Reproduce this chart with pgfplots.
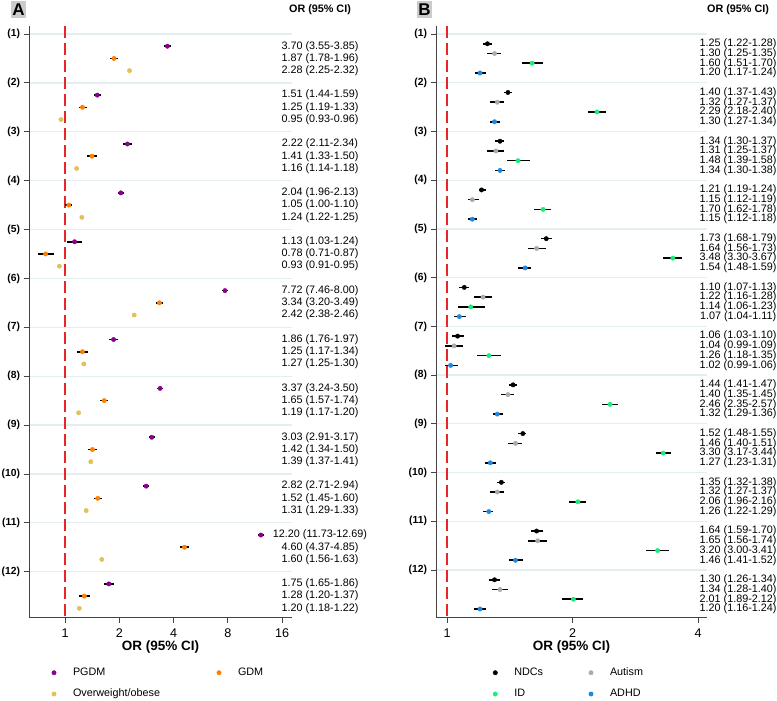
\documentclass[border=0pt]{standalone}
\usepackage{pgfplots}
\pgfplotsset{compat=1.18}
\usepackage{pgfplotstable}
\usepackage{fontspec}
\setmainfont{Liberation Sans}

\definecolor{cPGDM}{HTML}{8B008B}
\definecolor{cGDM}{HTML}{FF8000}
\definecolor{cOW}{HTML}{E0C25A}
\definecolor{cNDC}{HTML}{000000}
\definecolor{cAut}{HTML}{ABABAB}
\definecolor{cID}{HTML}{19EE7A}
\definecolor{cADHD}{HTML}{1E88E5}
\definecolor{gridc}{HTML}{E4EEF0}
\definecolor{refred}{HTML}{E8262A}
\definecolor{axc}{HTML}{444444}
\definecolor{boxg}{HTML}{CCCCCC}

% ---------------- Panel A ----------------
\pgfplotstableread{
grp or lo hi lab
1 3.70 3.55 3.85 {3.70 (3.55-3.85)}
2 1.51 1.44 1.59 {1.51 (1.44-1.59)}
3 2.22 2.11 2.34 {2.22 (2.11-2.34)}
4 2.04 1.96 2.13 {2.04 (1.96-2.13)}
5 1.13 1.03 1.24 {1.13 (1.03-1.24)}
6 7.72 7.46 8.00 {7.72 (7.46-8.00)}
7 1.86 1.76 1.97 {1.86 (1.76-1.97)}
8 3.37 3.24 3.50 {3.37 (3.24-3.50)}
9 3.03 2.91 3.17 {3.03 (2.91-3.17)}
10 2.82 2.71 2.94 {2.82 (2.71-2.94)}
11 12.20 11.73 12.69 {12.20 (11.73-12.69)}
12 1.75 1.65 1.86 {1.75 (1.65-1.86)}
}\tPGDM
\pgfplotstableread{
grp or lo hi lab
1 1.87 1.78 1.96 {1.87 (1.78-1.96)}
2 1.25 1.19 1.33 {1.25 (1.19-1.33)}
3 1.41 1.33 1.50 {1.41 (1.33-1.50)}
4 1.05 1.00 1.10 {1.05 (1.00-1.10)}
5 0.78 0.71 0.87 {0.78 (0.71-0.87)}
6 3.34 3.20 3.49 {3.34 (3.20-3.49)}
7 1.25 1.17 1.34 {1.25 (1.17-1.34)}
8 1.65 1.57 1.74 {1.65 (1.57-1.74)}
9 1.42 1.34 1.50 {1.42 (1.34-1.50)}
10 1.52 1.45 1.60 {1.52 (1.45-1.60)}
11 4.60 4.37 4.85 {4.60 (4.37-4.85)}
12 1.28 1.20 1.37 {1.28 (1.20-1.37)}
}\tGDM
\pgfplotstableread{
grp or lo hi lab
1 2.28 2.25 2.32 {2.28 (2.25-2.32)}
2 0.95 0.93 0.96 {0.95 (0.93-0.96)}
3 1.16 1.14 1.18 {1.16 (1.14-1.18)}
4 1.24 1.22 1.25 {1.24 (1.22-1.25)}
5 0.93 0.91 0.95 {0.93 (0.91-0.95)}
6 2.42 2.38 2.46 {2.42 (2.38-2.46)}
7 1.27 1.25 1.30 {1.27 (1.25-1.30)}
8 1.19 1.17 1.20 {1.19 (1.17-1.20)}
9 1.39 1.37 1.41 {1.39 (1.37-1.41)}
10 1.31 1.29 1.33 {1.31 (1.29-1.33)}
11 1.60 1.56 1.63 {1.60 (1.56-1.63)}
12 1.20 1.18 1.22 {1.20 (1.18-1.22)}
}\tOW

% ---------------- Panel B ----------------
\pgfplotstableread{
grp or lo hi lab
1 1.25 1.22 1.28 {1.25 (1.22-1.28)}
2 1.40 1.37 1.43 {1.40 (1.37-1.43)}
3 1.34 1.30 1.37 {1.34 (1.30-1.37)}
4 1.21 1.19 1.24 {1.21 (1.19-1.24)}
5 1.73 1.68 1.79 {1.73 (1.68-1.79)}
6 1.10 1.07 1.13 {1.10 (1.07-1.13)}
7 1.06 1.03 1.10 {1.06 (1.03-1.10)}
8 1.44 1.41 1.47 {1.44 (1.41-1.47)}
9 1.52 1.48 1.55 {1.52 (1.48-1.55)}
10 1.35 1.32 1.38 {1.35 (1.32-1.38)}
11 1.64 1.59 1.70 {1.64 (1.59-1.70)}
12 1.30 1.26 1.34 {1.30 (1.26-1.34)}
}\tNDC
\pgfplotstableread{
grp or lo hi lab
1 1.30 1.25 1.35 {1.30 (1.25-1.35)}
2 1.32 1.27 1.37 {1.32 (1.27-1.37)}
3 1.31 1.25 1.37 {1.31 (1.25-1.37)}
4 1.15 1.12 1.19 {1.15 (1.12-1.19)}
5 1.64 1.56 1.73 {1.64 (1.56-1.73)}
6 1.22 1.16 1.28 {1.22 (1.16-1.28)}
7 1.04 0.99 1.09 {1.04 (0.99-1.09)}
8 1.40 1.35 1.45 {1.40 (1.35-1.45)}
9 1.46 1.40 1.51 {1.46 (1.40-1.51)}
10 1.32 1.27 1.37 {1.32 (1.27-1.37)}
11 1.65 1.56 1.74 {1.65 (1.56-1.74)}
12 1.34 1.28 1.40 {1.34 (1.28-1.40)}
}\tAut
\pgfplotstableread{
grp or lo hi lab
1 1.60 1.51 1.70 {1.60 (1.51-1.70)}
2 2.29 2.18 2.40 {2.29 (2.18-2.40)}
3 1.48 1.39 1.58 {1.48 (1.39-1.58)}
4 1.70 1.62 1.78 {1.70 (1.62-1.78)}
5 3.48 3.30 3.67 {3.48 (3.30-3.67)}
6 1.14 1.06 1.23 {1.14 (1.06-1.23)}
7 1.26 1.18 1.35 {1.26 (1.18-1.35)}
8 2.46 2.35 2.57 {2.46 (2.35-2.57)}
9 3.30 3.17 3.44 {3.30 (3.17-3.44)}
10 2.06 1.96 2.16 {2.06 (1.96-2.16)}
11 3.20 3.00 3.41 {3.20 (3.00-3.41)}
12 2.01 1.89 2.12 {2.01 (1.89-2.12)}
}\tID
\pgfplotstableread{
grp or lo hi lab
1 1.20 1.17 1.24 {1.20 (1.17-1.24)}
2 1.30 1.27 1.34 {1.30 (1.27-1.34)}
3 1.34 1.30 1.38 {1.34 (1.30-1.38)}
4 1.15 1.12 1.18 {1.15 (1.12-1.18)}
5 1.54 1.48 1.59 {1.54 (1.48-1.59)}
6 1.07 1.04 1.11 {1.07 (1.04-1.11)}
7 1.02 0.99 1.06 {1.02 (0.99-1.06)}
8 1.32 1.29 1.36 {1.32 (1.29-1.36)}
9 1.27 1.23 1.31 {1.27 (1.23-1.31)}
10 1.26 1.22 1.29 {1.26 (1.22-1.29)}
11 1.46 1.41 1.52 {1.46 (1.41-1.52)}
12 1.20 1.16 1.24 {1.20 (1.16-1.24)}
}\tADHD

\newcommand{\labfont}{\fontsize{10.8}{12}\selectfont}

\begin{document}
\begin{tikzpicture}

% ================= Panel A =================
\begin{axis}[
  scale only axis,
  at={(29pt,-617pt)}, anchor=south west,
  width=263pt, height=591pt,
  xmode=log, log basis x=2,
  xmin=0.631, xmax=18.18,
  ymin=-12.927, ymax=-0.8363,
  axis x line*=bottom, axis y line*=left,
  axis line style={axc, line width=0.8pt},
  tick style={axc, line width=0.8pt},
  tick align=outside,
  major tick length=5.5pt,
  minor tick num=0,
  xtick={1,2,4,8,16}, xticklabels={1,2,4,8,16},
  ytick={-12,-11,-10,-9,-8,-7,-6,-5,-4,-3,-2,-1},
  yticklabels={(12),(11),(10),(9),(8),(7),(6),(5),(4),(3),(2),(1)},
  yticklabel style={font=\bfseries\fontsize{10.3}{12}\selectfont},
  xticklabel style={font=\fontsize{12.6}{14}\selectfont, yshift=-3pt},
  ymajorgrids, grid style={gridc, line width=1.3pt},
  clip=false,
  xlabel={OR (95\% CI)},
  xlabel style={font=\bfseries\fontsize{13.5}{15}\selectfont,
    at={(axis description cs:0.5,0)}, anchor=base, yshift=-33.8pt},
  legend columns=2,
  legend cell align=left,
  legend image code/.code={\path[draw=none, fill=none] (-2.2pt,0pt) -- (19pt,0pt);
    \draw[#1] plot coordinates {(0pt,0pt)};},
  legend style={draw=none, fill=none, inner sep=0pt, outer sep=0pt,
    row sep=10.8pt, column sep=0pt,
    at={(axis description cs:0.0867,-0.0854)}, anchor=north west,
    nodes={inner sep=0pt, text height=8pt, text depth=2.5pt, font=\labfont,
      text width=143.8pt, align=left}},
]
\addplot[forget plot, draw=refred, color=refred, dash pattern=on 12pt off 5pt, line width=1.25pt]
  coordinates {(1,-0.8363) (1,-12.927)};
\addplot[forget plot, only marks, mark=*, mark size=2.2pt, color=cPGDM,
  error bars/x dir=both, error bars/x explicit, error bars/error mark=none,
  error bars/error bar style={black, line width=1.6pt}]
  table[x=or, y expr=-\thisrow{grp}-0.25,
  x error plus expr=\thisrow{hi}-\thisrow{or},
  x error minus expr=\thisrow{or}-\thisrow{lo}] {\tPGDM};
\addplot[forget plot, only marks, mark=*, mark size=2.2pt, color=cGDM,
  error bars/x dir=both, error bars/x explicit, error bars/error mark=none,
  error bars/error bar style={black, line width=1.6pt}]
  table[x=or, y expr=-\thisrow{grp}-0.5,
  x error plus expr=\thisrow{hi}-\thisrow{or},
  x error minus expr=\thisrow{or}-\thisrow{lo}] {\tGDM};
\addplot[forget plot, only marks, mark=*, mark size=2.2pt, color=cOW,
  error bars/x dir=both, error bars/x explicit, error bars/error mark=none,
  error bars/error bar style={black, line width=1.6pt}]
  table[x=or, y expr=-\thisrow{grp}-0.75,
  x error plus expr=\thisrow{hi}-\thisrow{or},
  x error minus expr=\thisrow{or}-\thisrow{lo}] {\tOW};
\addplot[forget plot, only marks, mark=*, mark size=0pt, mark options={draw=none, fill=none},
  point meta=explicit symbolic, nodes near coords,
  nodes near coords style={anchor=center, inner sep=0pt, font=\labfont, text=black}]
  table[x expr=26.0, y expr=-\thisrow{grp}-0.25, meta=lab] {\tPGDM};
\addplot[forget plot, only marks, mark=*, mark size=0pt, mark options={draw=none, fill=none},
  point meta=explicit symbolic, nodes near coords,
  nodes near coords style={anchor=center, inner sep=0pt, font=\labfont, text=black}]
  table[x expr=26.0, y expr=-\thisrow{grp}-0.5, meta=lab] {\tGDM};
\addplot[forget plot, only marks, mark=*, mark size=0pt, mark options={draw=none, fill=none},
  point meta=explicit symbolic, nodes near coords,
  nodes near coords style={anchor=center, inner sep=0pt, font=\labfont, text=black}]
  table[x expr=26.0, y expr=-\thisrow{grp}-0.75, meta=lab] {\tOW};
\addlegendimage{only marks, mark=*, mark size=2.2pt, cPGDM}
\addlegendentry{PGDM}
\addlegendimage{only marks, mark=*, mark size=2.2pt, cGDM}
\addlegendentry{GDM}
\addlegendimage{only marks, mark=*, mark size=2.2pt, cOW}
\addlegendentry{Overweight/obese}
\end{axis}

% ================= Panel B =================
\begin{axis}[
  scale only axis,
  at={(436pt,-617pt)}, anchor=south west,
  width=271pt, height=591pt,
  xmode=log, log basis x=2,
  xmin=0.941, xmax=4.203,
  ymin=-12.964, ymax=-0.8358,
  axis x line*=bottom, axis y line*=left,
  axis line style={axc, line width=0.8pt},
  tick style={axc, line width=0.8pt},
  tick align=outside,
  major tick length=5.5pt,
  minor tick num=0,
  xtick={1,2,4}, xticklabels={1,2,4},
  ytick={-12,-11,-10,-9,-8,-7,-6,-5,-4,-3,-2,-1},
  yticklabels={(12),(11),(10),(9),(8),(7),(6),(5),(4),(3),(2),(1)},
  yticklabel style={font=\bfseries\fontsize{10.3}{12}\selectfont},
  xticklabel style={font=\fontsize{12.6}{14}\selectfont, yshift=-3pt},
  ymajorgrids, grid style={gridc, line width=1.3pt},
  clip=false,
  xlabel={OR (95\% CI)},
  xlabel style={font=\bfseries\fontsize{13.5}{15}\selectfont,
    at={(axis description cs:0.5,0)}, anchor=base, yshift=-33.8pt},
  legend columns=2,
  legend cell align=left,
  legend image code/.code={\path[draw=none, fill=none] (-2.2pt,0pt) -- (19pt,0pt);
    \draw[#1] plot coordinates {(0pt,0pt)};},
  legend style={draw=none, fill=none, inner sep=0pt, outer sep=0pt,
    row sep=10.8pt, column sep=0pt,
    at={(axis description cs:0.2107,-0.0854)}, anchor=north west,
    nodes={inner sep=0pt, text height=8pt, text depth=2.5pt, font=\labfont,
      text width=74.5pt, align=left}},
]
\addplot[forget plot, draw=refred, color=refred, dash pattern=on 12pt off 5pt, line width=1.25pt]
  coordinates {(1,-0.8358) (1,-12.964)};
\addplot[forget plot, only marks, mark=*, mark size=2.2pt, color=cNDC,
  error bars/x dir=both, error bars/x explicit, error bars/error mark=none,
  error bars/error bar style={black, line width=1.6pt}]
  table[x=or, y expr=-\thisrow{grp}-0.2,
  x error plus expr=\thisrow{hi}-\thisrow{or},
  x error minus expr=\thisrow{or}-\thisrow{lo}] {\tNDC};
\addplot[forget plot, only marks, mark=*, mark size=2.2pt, color=cAut,
  error bars/x dir=both, error bars/x explicit, error bars/error mark=none,
  error bars/error bar style={black, line width=1.6pt}]
  table[x=or, y expr=-\thisrow{grp}-0.4,
  x error plus expr=\thisrow{hi}-\thisrow{or},
  x error minus expr=\thisrow{or}-\thisrow{lo}] {\tAut};
\addplot[forget plot, only marks, mark=*, mark size=2.2pt, color=cID,
  error bars/x dir=both, error bars/x explicit, error bars/error mark=none,
  error bars/error bar style={black, line width=1.6pt}]
  table[x=or, y expr=-\thisrow{grp}-0.6,
  x error plus expr=\thisrow{hi}-\thisrow{or},
  x error minus expr=\thisrow{or}-\thisrow{lo}] {\tID};
\addplot[forget plot, only marks, mark=*, mark size=2.2pt, color=cADHD,
  error bars/x dir=both, error bars/x explicit, error bars/error mark=none,
  error bars/error bar style={black, line width=1.6pt}]
  table[x=or, y expr=-\thisrow{grp}-0.8,
  x error plus expr=\thisrow{hi}-\thisrow{or},
  x error minus expr=\thisrow{or}-\thisrow{lo}] {\tADHD};
\addplot[forget plot, only marks, mark=*, mark size=0pt, mark options={draw=none, fill=none},
  point meta=explicit symbolic, nodes near coords,
  nodes near coords style={anchor=center, inner sep=0pt, font=\labfont, text=black}]
  table[x expr=4.99, y expr=-\thisrow{grp}-0.2, meta=lab] {\tNDC};
\addplot[forget plot, only marks, mark=*, mark size=0pt, mark options={draw=none, fill=none},
  point meta=explicit symbolic, nodes near coords,
  nodes near coords style={anchor=center, inner sep=0pt, font=\labfont, text=black}]
  table[x expr=4.99, y expr=-\thisrow{grp}-0.4, meta=lab] {\tAut};
\addplot[forget plot, only marks, mark=*, mark size=0pt, mark options={draw=none, fill=none},
  point meta=explicit symbolic, nodes near coords,
  nodes near coords style={anchor=center, inner sep=0pt, font=\labfont, text=black}]
  table[x expr=4.99, y expr=-\thisrow{grp}-0.6, meta=lab] {\tID};
\addplot[forget plot, only marks, mark=*, mark size=0pt, mark options={draw=none, fill=none},
  point meta=explicit symbolic, nodes near coords,
  nodes near coords style={anchor=center, inner sep=0pt, font=\labfont, text=black}]
  table[x expr=4.99, y expr=-\thisrow{grp}-0.8, meta=lab] {\tADHD};
\addlegendimage{only marks, mark=*, mark size=2.2pt, cNDC}
\addlegendentry{NDCs}
\addlegendimage{only marks, mark=*, mark size=2.2pt, cAut}
\addlegendentry{Autism}
\addlegendimage{only marks, mark=*, mark size=2.2pt, cID}
\addlegendentry{ID}
\addlegendimage{only marks, mark=*, mark size=2.2pt, cADHD}
\addlegendentry{ADHD}
\end{axis}

% panel letters and column headers
\node[fill=boxg, minimum width=15pt, minimum height=17pt, inner sep=0pt,
  font=\bfseries\fontsize{17}{17}\selectfont] at (18.5pt,-9.5pt) {A};
\node[fill=boxg, minimum width=15pt, minimum height=17pt, inner sep=0pt,
  font=\bfseries\fontsize{17}{17}\selectfont] at (424.5pt,-9.5pt) {B};
\node[font=\bfseries\fontsize{10.8}{12}\selectfont] at (320pt,-10pt) {OR (95\% CI)};
\node[font=\bfseries\fontsize{10.8}{12}\selectfont] at (738pt,-10pt) {OR (95\% CI)};

\pgfresetboundingbox
\path[use as bounding box] (0pt,0pt) rectangle (777pt,-701pt);
\end{tikzpicture}
\end{document}
